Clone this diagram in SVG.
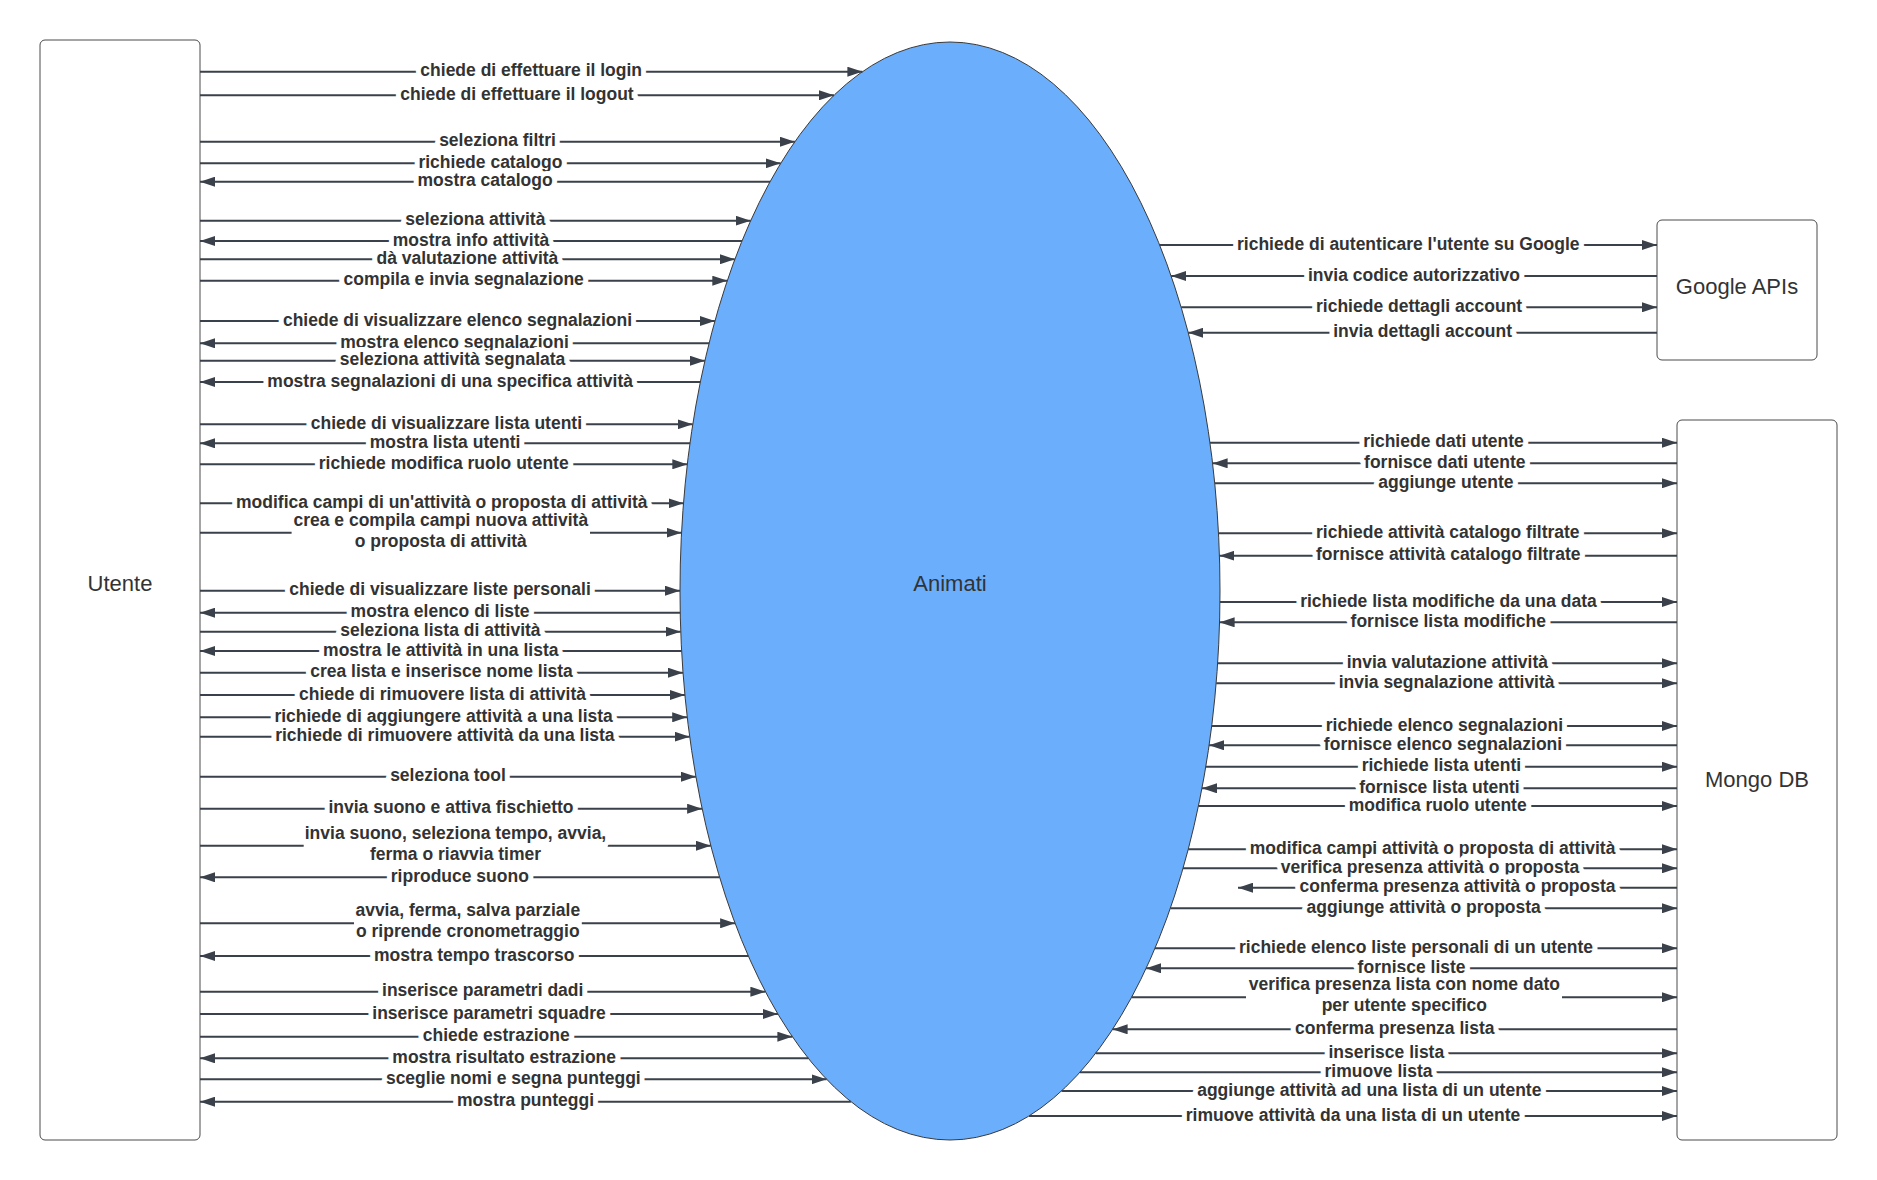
<svg xmlns="http://www.w3.org/2000/svg" width="1877" height="1180" viewBox="0 0 1877 1180">
  <style>
    .box { fill: #ffffff; stroke: #4a4a4a; stroke-width: 1; }
    .proc { fill: #6aaefc; stroke: #3a3a3a; stroke-width: 1; }
    .name { font-family: "Liberation Sans", Arial, sans-serif; font-size: 22px; fill: #333333; text-anchor: middle; }
    .flow path { fill: none; stroke: #3a414a; stroke-width: 2; }
    .flow .arr { marker-end: url(#ah); }
    .flow text { font-family: "Liberation Sans", Arial, sans-serif; font-weight: bold; font-size: 17.5px; fill: #333333; text-anchor: middle; stroke: #ffffff; stroke-width: 10; stroke-linejoin: round; paint-order: stroke; }
  </style>
  <defs>
    <marker id="ah" markerWidth="15" markerHeight="10" refX="15" refY="5" orient="auto" markerUnits="userSpaceOnUse">
      <path d="M0,0 L15,5 L0,10 z" fill="#3a414a"/>
    </marker>
  </defs>
  <rect width="1877" height="1180" fill="#ffffff"/>

  <!-- external entities and the central process -->
  <g id="utente">
    <rect class="box" x="40" y="40" width="160" height="1100" rx="5"/>
    <text class="name" x="120" y="591">Utente</text>
  </g>
  <g id="animati">
    <ellipse class="proc" cx="950" cy="591" rx="270" ry="549"/>
    <text class="name" x="950" y="591">Animati</text>
  </g>
  <g id="google-apis">
    <rect class="box" x="1657" y="220" width="160" height="140" rx="5"/>
    <text class="name" x="1737" y="294">Google APIs</text>
  </g>
  <g id="mongo-db">
    <rect class="box" x="1677" y="420" width="160" height="720" rx="5"/>
    <text class="name" x="1757" y="787">Mongo DB</text>
  </g>

  <!-- data flows -->
  <g id="connectors" class="flow">
    <!-- Utente <-> Animati -->
    <path class="arr" d="M200,71.7 H862.4"/><text x="531.2" y="76.2">chiede di effettuare il login</text>
    <path class="arr" d="M200,95.3 H834"/><text x="517" y="99.8">chiede di effettuare il logout</text>
    <path class="arr" d="M200,141.7 H794.9"/><text x="497.5" y="146.2">seleziona filtri</text>
    <path class="arr" d="M200,163.3 H780.7"/><text x="490.4" y="167.8">richiede catalogo</text>
    <path class="arr" d="M770,181.7 H200"/><text x="485" y="186.2">mostra catalogo</text>
    <path class="arr" d="M200,220.7 H750.7"/><text x="475.4" y="225.2">seleziona attività</text>
    <path class="arr" d="M742,241 H200"/><text x="471" y="245.5">mostra info attività</text>
    <path class="arr" d="M200,259.3 H734.8"/><text x="467.4" y="263.8">dà valutazione attività</text>
    <path class="arr" d="M200,280.7 H727.3"/><text x="463.7" y="285.2">compila e invia segnalazione</text>
    <path class="arr" d="M200,321 H714.9"/><text x="457.5" y="325.5">chiede di visualizzare elenco segnalazioni</text>
    <path class="arr" d="M709.1,343.3 H200"/><text x="454.6" y="347.8">mostra elenco segnalazioni</text>
    <path class="arr" d="M200,360.7 H704.9"/><text x="452.5" y="365.2">seleziona attività segnalata</text>
    <path class="arr" d="M700.3,382 H200"/><text x="450.2" y="386.5">mostra segnalazioni di una specifica attività</text>
    <path class="arr" d="M200,424.3 H692.7"/><text x="446.4" y="428.8">chiede di visualizzare lista utenti</text>
    <path class="arr" d="M690,443.3 H200"/><text x="445" y="447.8">mostra lista utenti</text>
    <path class="arr" d="M200,464.3 H687.3"/><text x="443.7" y="468.8">richiede modifica ruolo utente</text>
    <path class="arr" d="M200,503.3 H683.5"/><text x="441.8" y="507.8">modifica campi di un'attività o proposta di attività</text>
    <path d="M200,532.7 H291.6"/><path class="arr" d="M590,532.7 H681.5"/>
    <text x="440.8" y="525.7">crea e compila campi nuova attività</text><text x="440.8" y="546.7">o proposta di attività</text>
    <path class="arr" d="M200,590.7 H680"/><text x="440" y="595.2">chiede di visualizzare liste personali</text>
    <path class="arr" d="M680.2,612.7 H200"/><text x="440.1" y="617.2">mostra elenco di liste</text>
    <path class="arr" d="M200,631.7 H680.7"/><text x="440.4" y="636.2">seleziona lista di attività</text>
    <path class="arr" d="M681.6,651 H200"/><text x="440.8" y="655.5">mostra le attività in una lista</text>
    <path class="arr" d="M200,672.7 H683"/><text x="441.5" y="677.2">crea lista e inserisce nome lista</text>
    <path class="arr" d="M200,695 H684.9"/><text x="442.5" y="699.5">chiede di rimuovere lista di attività</text>
    <path class="arr" d="M200,717.3 H687.2"/><text x="443.6" y="721.8">richiede di aggiungere attività a una lista</text>
    <path class="arr" d="M200,736.7 H689.7"/><text x="444.9" y="741.2">richiede di rimuovere attività da una lista</text>
    <path class="arr" d="M200,776.7 H695.9"/><text x="448" y="781.2">seleziona tool</text>
    <path class="arr" d="M200,808.7 H702.1"/><text x="451" y="813.2">invia suono e attiva fischietto</text>
    <path d="M200,845.7 H303.7"/><path class="arr" d="M607.7,845.7 H710.8"/>
    <text x="455.5" y="838.7">invia suono, seleziona tempo, avvia,</text><text x="455.5" y="859.7">ferma o riavvia timer</text>
    <path class="arr" d="M719.6,877.3 H200"/><text x="459.8" y="881.8">riproduce suono</text>
    <path d="M200,923.3 H354"/><path class="arr" d="M581.8,923.3 H735.1"/>
    <text x="467.8" y="916.3">avvia, ferma, salva parziale</text><text x="467.8" y="937.3">o riprende cronometraggio</text>
    <path class="arr" d="M748.3,956 H200"/><text x="474.2" y="960.5">mostra tempo trascorso</text>
    <path class="arr" d="M200,991.7 H765.4"/><text x="482.7" y="996.2">inserisce parametri dadi</text>
    <path class="arr" d="M200,1014 H777.9"/><text x="489" y="1018.5">inserisce parametri squadre</text>
    <path class="arr" d="M200,1036.7 H792.4"/><text x="496.2" y="1041.2">chiede estrazione</text>
    <path class="arr" d="M808.3,1058.3 H200"/><text x="504.2" y="1062.8">mostra risultato estrazione</text>
    <path class="arr" d="M200,1079.3 H826.6"/><text x="513.3" y="1083.8">sceglie nomi e segna punteggi</text>
    <path class="arr" d="M850.9,1101.7 H200"/><text x="525.5" y="1106.2">mostra punteggi</text>

    <!-- Animati <-> Google APIs -->
    <path class="arr" d="M1159.6,245 H1657"/><text x="1408.3" y="249.5">richiede di autenticare l'utente su Google</text>
    <path class="arr" d="M1657,276 H1171.1"/><text x="1414" y="280.5">invia codice autorizzativo</text>
    <path class="arr" d="M1181.2,307.3 H1657"/><text x="1419.1" y="311.8">richiede dettagli account</text>
    <path class="arr" d="M1657,332.7 H1188.2"/><text x="1422.6" y="337.2">invia dettagli account</text>

    <!-- Animati <-> Mongo DB -->
    <path class="arr" d="M1210,442.7 H1677"/><text x="1443.5" y="447.2">richiede dati utente</text>
    <path class="arr" d="M1677,463.3 H1212.6"/><text x="1444.8" y="467.8">fornisce dati utente</text>
    <path class="arr" d="M1214.8,483.3 H1677"/><text x="1445.9" y="487.8">aggiunge utente</text>
    <path class="arr" d="M1218.5,533.3 H1677"/><text x="1447.8" y="537.8">richiede attività catalogo filtrate</text>
    <path class="arr" d="M1677,555.7 H1219.4"/><text x="1448.2" y="560.2">fornisce attività catalogo filtrate</text>
    <path class="arr" d="M1220,602 H1677"/><text x="1448.5" y="606.5">richiede lista modifiche da una data</text>
    <path class="arr" d="M1677,622.3 H1219.6"/><text x="1448.3" y="626.8">fornisce lista modifiche</text>
    <path class="arr" d="M1217.6,663.3 H1677"/><text x="1447.3" y="667.8">invia valutazione attività</text>
    <path class="arr" d="M1216.2,683.3 H1677"/><text x="1446.6" y="687.8">invia segnalazione attività</text>
    <path class="arr" d="M1211.7,726 H1677"/><text x="1444.4" y="730.5">richiede elenco segnalazioni</text>
    <path class="arr" d="M1677,745.3 H1209.1"/><text x="1443" y="749.8">fornisce elenco segnalazioni</text>
    <path class="arr" d="M1205.8,766.7 H1677"/><text x="1441.4" y="771.2">richiede lista utenti</text>
    <path class="arr" d="M1677,788.3 H1202"/><text x="1439.5" y="792.8">fornisce lista utenti</text>
    <path class="arr" d="M1198.4,806 H1677"/><text x="1437.7" y="810.5">modifica ruolo utente</text>
    <path class="arr" d="M1188.2,849.3 H1677"/><text x="1432.6" y="853.8">modifica campi attività o proposta di attività</text>
    <path class="arr" d="M1183,868.3 H1677"/><text x="1430" y="872.8">verifica presenza attività o proposta</text>
    <path class="arr" d="M1677,887.7 H1238"/><text x="1457.5" y="892.2">conferma presenza attività o proposta</text>
    <path class="arr" d="M1170.3,908.3 H1677"/><text x="1423.7" y="912.8">aggiunge attività o proposta</text>
    <path class="arr" d="M1155,948.3 H1677"/><text x="1416" y="952.8">richiede elenco liste personali di un utente</text>
    <path class="arr" d="M1677,968.3 H1146.1"/><text x="1411.6" y="972.8">fornisce liste</text>
    <path d="M1131.6,997.3 H1246"/><path class="arr" d="M1562,997.3 H1677"/>
    <text x="1404.3" y="990.3">verifica presenza lista con nome dato</text><text x="1404.3" y="1011.3">per utente specifico</text>
    <path class="arr" d="M1677,1029.3 H1112.6"/><text x="1394.8" y="1033.8">conferma presenza lista</text>
    <path class="arr" d="M1095.6,1053.3 H1677"/><text x="1386.3" y="1057.8">inserisce lista</text>
    <path class="arr" d="M1079.9,1072.3 H1677"/><text x="1378.5" y="1076.8">rimuove lista</text>
    <path class="arr" d="M1061.5,1091 H1677"/><text x="1369.3" y="1095.5">aggiunge attività ad una lista di un utente</text>
    <path class="arr" d="M1029,1116 H1677"/><text x="1353" y="1120.5">rimuove attività da una lista di un utente</text>
  </g>
</svg>
